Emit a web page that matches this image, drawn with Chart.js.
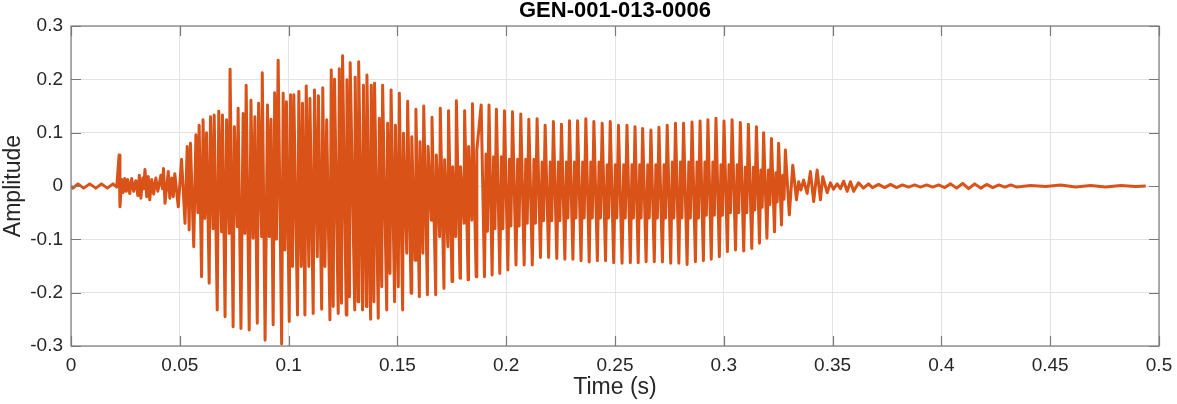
<!DOCTYPE html>
<html>
<head>
<meta charset="utf-8">
<title>GEN-001-013-0006</title>
<script src="https://cdn.jsdelivr.net/npm/chart.js@4.4.1/dist/chart.umd.min.js"></script>
<style>
    html, body { margin: 0; padding: 0; background: #fff; }
    #wrap { width: 1177px; height: 404px; }
</style>
</head>
<body>
<div id="wrap"><canvas id="wave" width="1177" height="404"></canvas></div>
<script>
// Values (times in ms, amplitude in signal units)

const xTickValues = [0, 0.05, 0.1, 0.15, 0.2, 0.25, 0.3, 0.35, 0.4, 0.45, 0.5];
const xTickLabels = ['0', '0.05', '0.1', '0.15', '0.2', '0.25', '0.3', '0.35', '0.4', '0.45', '0.5'];
const yTickValues = [-0.3, -0.2, -0.1, 0, 0.1, 0.2, 0.3];
const yTickLabels = ['-0.3', '-0.2', '-0.1', '0', '0.1', '0.2', '0.3'];

// silence ripple, click and noisy onset
const leadMs = [0.0, 0.9, 3.2, 5.8, 8.6, 11.4, 14.0, 16.7, 19.3, 21.0, 22.1, 22.5, 23.3, 24.0, 24.7, 25.4,
    26.1, 27.0, 27.9, 28.8, 29.8, 30.7, 31.4, 32.1, 33.0, 33.4, 34.0, 34.8, 35.5, 36.2, 37.1, 38.0,
    39.0, 39.9, 41.3, 42.0, 42.5, 43.2, 44.7, 45.4, 46.3, 47.0, 47.7, 49.3, 50.8, 52.4];
const leadAmp = [0, -0.004, 0.004, -0.004, 0.004, -0.004, 0.004, -0.004, 0.004, -0.002, 0.058, -0.039, 0.012, -0.012, 0.014, -0.010,
    0.012, -0.014, 0.014, -0.010, 0.010, -0.018, 0.020, -0.023, 0.015, -0.005, 0.031, -0.020, 0.018, -0.026, 0.012, -0.015,
    0.015, -0.010, 0.020, -0.005, 0.033, -0.0325, 0.027, -0.023, 0.015, -0.020, 0.023, -0.039, 0.050, -0.070];

// dense voiced part, every visible tip
const denseMs = [53.4, 54.3, 54.9, 56.4, 57.4, 58.3, 58.9, 60.0, 60.7, 61.5, 62.3, 63.5, 64.1, 65.3, 65.8, 67.2,
    67.9, 69.2, 69.6, 70.8, 71.5, 72.7, 73.1, 74.5, 75.1, 76.4, 76.8, 78.1, 79.1, 79.9, 80.5, 81.9,
    82.7, 83.7, 84.5, 85.6, 86.2, 87.6, 87.9, 89.2, 90.3, 91.1, 91.9, 92.9, 93.6, 94.4, 95.2, 96.8,
    97.5, 98.3, 99.0, 100.3, 100.9, 101.8, 102.4, 104.1, 104.7, 105.8, 106.4, 107.5, 108.1, 109.3, 109.8, 111.3,
    111.9, 113.2, 113.7, 115.2, 115.7, 116.7, 117.5, 119.0, 119.6, 120.5, 121.1, 122.8, 123.3, 124.3, 124.8, 126.5,
    126.8, 128.0, 128.3, 130.4, 130.6, 131.9, 132.2, 134.0, 134.4, 135.7, 136.0, 137.7, 138.0, 139.2, 139.5, 141.2,
    141.7, 142.8, 143.2, 145.1, 145.5, 146.6, 147.1, 148.7, 149.1, 150.4, 150.9, 152.4, 152.8, 154.3, 154.7, 156.3,
    156.6, 158.1, 158.5, 160.1, 160.4, 161.7, 162.1, 163.8, 164.1, 165.6, 165.9, 167.6, 167.9, 169.4, 169.7, 171.4,
    171.7, 173.2, 173.5, 175.1, 175.4, 176.8, 177.1, 178.8, 179.0, 180.6, 180.9, 182.5, 182.7, 184.2, 184.5, 186.2, 186.5];
const denseAmp = [0.074, -0.0825, 0.080, -0.114, 0.096, -0.050, 0.114, -0.170, 0.124, -0.061, 0.100, -0.1825, 0.130, -0.080, 0.133, -0.2325,
    0.140, -0.086, 0.133, -0.245, 0.124, -0.089, 0.219, -0.264, 0.111, -0.0765, 0.146, -0.267, 0.136, -0.089, 0.189, -0.270,
    0.161, -0.098, 0.130, -0.2575, 0.155, -0.095, 0.2125, -0.289, 0.152, -0.095, 0.125, -0.260, 0.175, -0.100, 0.236, -0.296,
    0.174, -0.120, 0.158, -0.254, 0.171, -0.151, 0.171, -0.242, 0.177, -0.151, 0.155, -0.242, 0.1875, -0.151, 0.164, -0.239,
    0.180, -0.1325, 0.169, -0.231, 0.184, -0.151, 0.124, -0.251, 0.2175, -0.226, 0.200, -0.239, 0.220, -0.220, 0.244, -0.242,
    0.199, -0.2075, 0.231, -0.2325, 0.204, -0.217, 0.233, -0.2325, 0.189, -0.226, 0.208, -0.250, 0.189, -0.217, 0.1925, -0.248,
    0.127, -0.189, 0.189, -0.2325, 0.1175, -0.164, 0.180, -0.217, 0.114, -0.189, 0.174, -0.2325, 0.099, -0.126, 0.159, -0.201,
    0.0925, -0.139, 0.144, -0.2075, 0.083, -0.126, 0.150, -0.204, 0.074, -0.064, 0.129, -0.204, 0.058, -0.095, 0.146, -0.192,
    0.049, -0.114, 0.141, -0.179, 0.036, -0.095, 0.160, -0.173, 0.036, -0.070, 0.141, -0.176, 0.074, -0.064, 0.154, -0.170, 0.0675];

// steadier voiced part, one entry per glottal cycle
const cycleMs = [188.5, 192.1, 195.5, 199.2, 202.9, 206.7, 210.4, 214.2, 217.9, 221.7, 225.4, 229.1, 232.8,
    236.6, 240.3, 244.1, 247.8, 251.6, 255.5, 259.2, 262.7, 266.5, 270.2, 274.0, 277.8, 281.5,
    285.4, 289.1, 292.7, 296.4, 300.1, 303.8, 307.6, 311.3, 315.0, 318.3, 321.9, 325.2];
const cycleHi = [0.152, 0.152, 0.144, 0.141, 0.139, 0.135, 0.125, 0.126, 0.114, 0.121, 0.116, 0.1225, 0.1225,
    0.126, 0.121, 0.1175, 0.121, 0.114, 0.114, 0.111, 0.108, 0.105, 0.110, 0.114, 0.1175, 0.1175,
    0.120, 0.122, 0.124, 0.127, 0.122, 0.124, 0.119, 0.116, 0.111, 0.100, 0.089, 0.080];
const cycleLo = [-0.170, -0.167, -0.164, -0.1575, -0.148, -0.148, -0.148, -0.134, -0.134, -0.136, -0.1375, -0.1375, -0.140,
    -0.1425, -0.140, -0.140, -0.144, -0.145, -0.144, -0.144, -0.142, -0.142, -0.1425, -0.145, -0.145, -0.147,
    -0.142, -0.140, -0.1375, -0.1325, -0.123, -0.120, -0.122, -0.117, -0.1075, -0.098, -0.086, -0.073];
const cycleMidHi = [0.060, 0.055, 0.055, 0.050, 0.050, 0.050, 0.050, 0.045, 0.045, 0.045, 0.045, 0.045, 0.045,
    0.045, 0.045, 0.040, 0.040, 0.040, 0.040, 0.040, 0.040, 0.040, 0.040, 0.045, 0.045, 0.045,
    0.045, 0.045, 0.045, 0.040, 0.040, 0.040, 0.035, 0.035, 0.030, 0.030, 0.025, 0.020];
const cycleMidLo = [-0.085, -0.080, -0.080, -0.075, -0.075, -0.070, -0.070, -0.065, -0.065, -0.065, -0.060, -0.060, -0.060,
    -0.060, -0.060, -0.060, -0.060, -0.060, -0.060, -0.060, -0.060, -0.060, -0.060, -0.060, -0.060, -0.060,
    -0.060, -0.055, -0.055, -0.055, -0.050, -0.050, -0.050, -0.045, -0.040, -0.035, -0.030, -0.025];

// decay and trailing silence
const tailMs = [328.3, 330.1, 331.7, 333.4, 334.4, 335.4, 336.7, 338.3, 339.8, 341.3, 342.9, 344.4, 345.5, 347.5,
    349.0, 350.4, 352.1, 353.6, 355.1, 356.7, 358.2, 359.7, 361.9, 364.2, 366.5, 368.3, 371.1, 373.9,
    376.6, 379.4, 382.1, 384.9, 387.7, 390.4, 393.2, 396.0, 398.7, 401.5, 404.2, 407.0, 409.8, 412.5,
    415.3, 418.1, 420.8, 423.6, 426.4, 429.1, 431.9, 434.7, 441.0, 447.9, 454.8, 461.7, 468.6, 475.5,
    482.4, 489.3, 493.9];
const tailAmp = [0.0675, -0.054, 0.039, -0.026, 0.008, -0.0075, 0.011, -0.014, 0.027, -0.029, 0.030, -0.026, 0.0175, -0.0125,
    0.006, -0.006, 0.004, -0.005, 0.009, -0.010, 0.008, -0.010, 0.006, -0.004, 0.004, -0.003, 0.003, -0.003,
    0.003, -0.003, 0.002, -0.002, 0.002, -0.002, 0.002, -0.002, 0.002, -0.003, 0.004, -0.004, 0.005, -0.005,
    0.004, -0.004, 0.003, -0.003, 0.002, -0.002, 0.002, -0.002, 0.001, -0.001, 0.002, -0.002, 0.001, -0.002,
    0.001, -0.001, 0.000];

const titleText = 'GEN-001-013-0006';
const lineColor = '#D95319';
const axisColor = '#262626';
const FONT = '"Liberation Sans", Arial, Helvetica, sans-serif';

function buildPoints() {
    const pts = [];
    leadMs.forEach((t, i) => pts.push({ x: t / 1000, y: leadAmp[i] }));
    denseMs.forEach((t, i) => pts.push({ x: t / 1000, y: denseAmp[i] }));
    cycleMs.forEach((t, i) => {
        const next = i + 1 < cycleMs.length ? cycleMs[i + 1] : tailMs[0];
        const p = next - t;
        pts.push({ x: t / 1000, y: cycleHi[i] });
        pts.push({ x: (t + 0.42 * p) / 1000, y: cycleLo[i] });
        pts.push({ x: (t + 0.62 * p) / 1000, y: cycleMidHi[i] });
        pts.push({ x: (t + 0.80 * p) / 1000, y: cycleMidLo[i] });
    });
    tailMs.forEach((t, i) => pts.push({ x: t / 1000, y: tailAmp[i] }));
    return pts;
}

// frame, inward ticks on all four sides and the bold title
const boxPlugin = {
    id: 'matlabBox',
    afterDraw(chart) {
        const { ctx, chartArea: a, scales: { x, y } } = chart;
        const len = 10;
        ctx.save();
        ctx.strokeStyle = '#7a7a7a';
        ctx.lineWidth = 1.2;
        ctx.beginPath();
        xTickValues.forEach(v => {
            const px = Math.round(x.getPixelForValue(v)) + 0.5;
            ctx.moveTo(px, a.bottom); ctx.lineTo(px, a.bottom - len);
            ctx.moveTo(px, a.top); ctx.lineTo(px, a.top + len);
        });
        yTickValues.forEach(v => {
            const py = Math.round(y.getPixelForValue(v)) + 0.5;
            ctx.moveTo(a.left, py); ctx.lineTo(a.left + len, py);
            ctx.moveTo(a.right, py); ctx.lineTo(a.right - len, py);
        });
        ctx.stroke();
        ctx.strokeRect(a.left, a.top, a.right - a.left, a.bottom - a.top);

        ctx.fillStyle = '#000';
        ctx.font = 'bold 22px ' + FONT;
        ctx.textAlign = 'center';
        ctx.textBaseline = 'middle';
        ctx.fillText(titleText, (a.left + a.right) / 2, 11);
        ctx.restore();
    }
};

const ctx = document.getElementById('wave').getContext('2d');
new Chart(ctx, {
    type: 'line',
    data: {
        datasets: [{
            data: buildPoints(),
            borderColor: lineColor,
            borderWidth: 3,
            borderJoinStyle: 'round',
            pointRadius: 0,
            tension: 0,
            fill: false
        }]
    },
    options: {
        responsive: false,
        animation: false,
        parsing: false,
        normalized: true,
        layout: { padding: { top: 26, right: 18, left: 0, bottom: 0 } },
        plugins: {
            legend: { display: false },
            tooltip: { enabled: false },
            title: { display: false }
        },
        scales: {
            x: {
                type: 'linear',
                min: 0,
                max: 0.5,
                afterBuildTicks: s => { s.ticks = xTickValues.map(v => ({ value: v })); },
                afterFit: s => { s.height = 58; s.paddingLeft = 0; s.paddingRight = 0; },
                grid: { color: '#e3e3e3', lineWidth: 1, drawTicks: false },
                border: { display: false },
                ticks: {
                    padding: 8,
                    color: axisColor,
                    font: { family: FONT, size: 19 },
                    maxRotation: 0,
                    autoSkip: false,
                    callback: (v, i) => xTickLabels[i]
                },
                title: {
                    display: true,
                    text: 'Time (s)',
                    color: axisColor,
                    font: { family: FONT, size: 23 },
                    padding: { top: 0, bottom: 3 }
                }
            },
            y: {
                type: 'linear',
                min: -0.3,
                max: 0.3,
                afterBuildTicks: s => { s.ticks = yTickValues.map(v => ({ value: v })); },
                afterFit: s => { s.width = 71; s.paddingTop = 0; s.paddingBottom = 0; },
                grid: { color: '#e3e3e3', lineWidth: 1, drawTicks: false },
                border: { display: false },
                ticks: {
                    padding: 8,
                    color: axisColor,
                    font: { family: FONT, size: 19 },
                    autoSkip: false,
                    callback: (v, i) => yTickLabels[i]
                },
                title: {
                    display: true,
                    text: 'Amplitude',
                    color: axisColor,
                    font: { family: FONT, size: 23 },
                    padding: 0
                }
            }
        }
    },
    plugins: [boxPlugin]
});
</script>
</body>
</html>
